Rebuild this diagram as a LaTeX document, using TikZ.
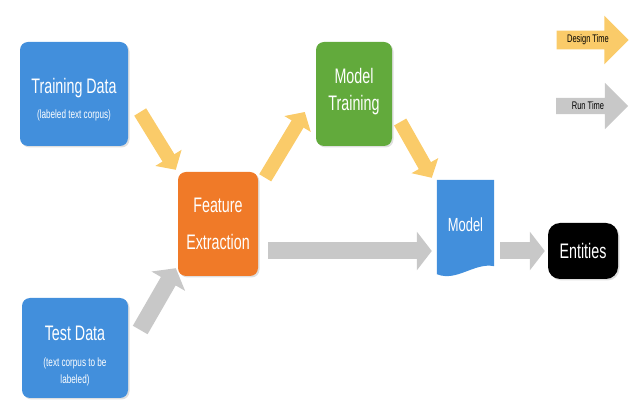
\documentclass[tikz,border=0pt]{standalone}
\usepackage{fontspec}
\setmainfont{Liberation Sans}[FakeStretch=0.68]
\usetikzlibrary{arrows.meta,shapes.arrows,shadows}
\definecolor{boxblue}{RGB}{66,143,220}
\definecolor{boxorange}{RGB}{240,122,40}
\definecolor{boxgreen}{RGB}{98,170,60}
\definecolor{designcol}{RGB}{250,203,105}
\definecolor{runcol}{RGB}{200,200,200}
\newcommand{\subtxt}{\fontsize{12}{13}\selectfont}
\tikzset{
  stepbox/.style={rounded corners=8pt, text=white, align=center, inner sep=0pt,
    font=\fontsize{21}{20}\selectfont,
    drop shadow={shadow xshift=1.5pt, shadow yshift=-1.5pt, opacity=0.25}},
  designarrow/.style={draw=designcol, line width=14pt, -{Triangle[length=14pt,width=30pt]}},
  runarrow/.style={draw=runcol, line width=17pt, -{Triangle[length=15pt,width=38pt]}},
  legend/.style={shape=single arrow, minimum height=72pt, inner ysep=4pt, inner xsep=3pt,
    single arrow head extend=15pt, font=\fontsize{11}{12}\selectfont}
}
\begin{document}
\begin{tikzpicture}[x=1pt, y=-1pt]
    \useasboundingbox (0,0) rectangle (630,403);
    % boxes
    \node [stepbox, fill=boxblue, minimum width=108pt, minimum height=104pt] (train) at (74, 94)
        {~\\[6pt]Training Data\\[5pt]{\subtxt (labeled text corpus)}};
    \node [stepbox, fill=boxblue, minimum width=106pt, minimum height=100pt] (test) at (75, 348)
        {~\\[10pt]Test Data\\[6pt]{\subtxt (text corpus to be}\\[-3pt]{\subtxt labeled)}};
    \node [stepbox, fill=boxorange, minimum width=80pt, minimum height=104pt] (feat) at (218, 224)
        {Feature\\[17pt]Extraction};
    \node [stepbox, fill=boxgreen, minimum width=76pt, minimum height=104pt] (mtrain) at (354, 94)
        {Model\\[7pt]Training\\[-10pt]~};
    \node [stepbox, fill=black, rounded corners=12pt, minimum width=70pt, minimum height=56pt] (ent) at (583, 251)
        {Entities};
    % model document
    \node [minimum width=57pt, minimum height=96pt, inner sep=0pt] (model) at (465.5, 228) {};
    \fill [boxblue] (model.north west) -- (model.north east) -- ([shift={(0,-10)}]model.south east)
        .. controls ([shift={(-20,-14)}]model.south east) and ([shift={(20,6)}]model.south west) .. ([shift={(0,-2)}]model.south west) -- cycle;
    \node [text=white, font=\fontsize{19}{20}\selectfont] (modeltxt) at ([shift={(0,-3)}]model.center) {Model};
    % connectors
    \draw [designarrow] ([shift={(12,18)}]train.east) -- ([shift={(-2,-2)}]feat.north west);
    \draw [runarrow] ([shift={(12,-18)}]test.east) -- ([shift={(-2,-8)}]feat.south west);
    \draw [designarrow] ([shift={(7,6)}]feat.north east) -- ([shift={(-11,18)}]mtrain.west);
    \draw [designarrow] ([shift={(8,28)}]mtrain.east) -- ([shift={(-5,-2)}]model.north west);
    \draw [runarrow] ([shift={(10,27)}]feat.east) -- ([shift={(-5,23)}]model.west);
    \draw [runarrow] ([shift={(6,23)}]model.east) -- ([shift={(-3,0)}]ent.west);
    % legend
    \node [legend, fill=designcol] (design) at (588, 40) {Design Time};
    \node [legend, fill=runcol] (run) at (588, 106) {Run Time};
\end{tikzpicture}
\end{document}
